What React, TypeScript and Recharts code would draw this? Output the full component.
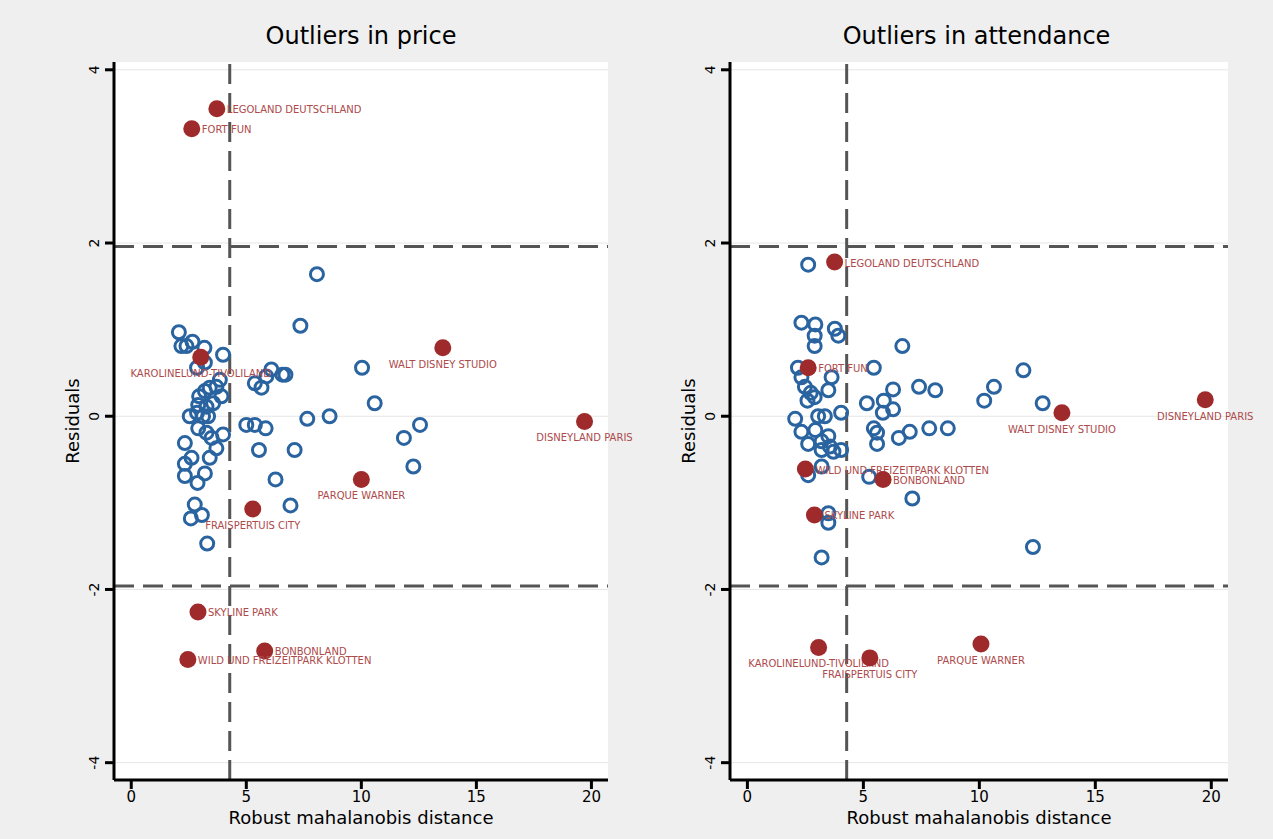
import { ScatterChart, Scatter, XAxis, YAxis, CartesianGrid, ReferenceLine } from 'recharts'

// price panel: regular parks (robust distance, residual)
const priceParks = [
  { d: 2.07, r: 0.97 }, { d: 2.18, r: 0.81 }, { d: 2.4, r: 0.81 }, { d: 2.66, r: 0.86 },
  { d: 3.18, r: 0.79 }, { d: 3.99, r: 0.71 }, { d: 2.86, r: 0.56 }, { d: 3.2, r: 0.62 },
  { d: 3.85, r: 0.42 }, { d: 2.95, r: 0.23 }, { d: 3.2, r: 0.29 }, { d: 3.41, r: 0.33 },
  { d: 3.7, r: 0.34 }, { d: 3.92, r: 0.23 }, { d: 3.56, r: 0.15 }, { d: 3.27, r: 0.11 },
  { d: 2.91, r: 0.13 }, { d: 2.54, r: 0.0 }, { d: 2.86, r: 0.04 }, { d: 3.12, r: 0.0 },
  { d: 3.34, r: 0.0 }, { d: 2.91, r: -0.14 }, { d: 3.27, r: -0.19 }, { d: 3.49, r: -0.25 },
  { d: 3.99, r: -0.21 }, { d: 2.33, r: -0.31 }, { d: 3.7, r: -0.37 }, { d: 2.62, r: -0.48 },
  { d: 2.33, r: -0.55 }, { d: 3.41, r: -0.48 }, { d: 2.33, r: -0.69 }, { d: 3.2, r: -0.66 },
  { d: 2.88, r: -0.77 }, { d: 2.76, r: -1.02 }, { d: 2.59, r: -1.18 }, { d: 3.07, r: -1.14 },
  { d: 3.3, r: -1.47 }, { d: 8.07, r: 1.64 }, { d: 7.35, r: 1.045 }, { d: 10.03, r: 0.56 },
  { d: 10.58, r: 0.15 }, { d: 7.65, r: -0.03 }, { d: 8.62, r: 0.0 }, { d: 12.55, r: -0.1 },
  { d: 11.85, r: -0.25 }, { d: 12.26, r: -0.58 }, { d: 5.55, r: -0.39 }, { d: 7.1, r: -0.39 },
  { d: 6.27, r: -0.73 }, { d: 6.92, r: -1.03 }, { d: 5.0, r: -0.1 }, { d: 5.37, r: -0.1 },
  { d: 5.84, r: -0.14 }, { d: 6.09, r: 0.54 }, { d: 6.57, r: 0.48 }, { d: 6.7, r: 0.48 },
  { d: 5.37, r: 0.38 }, { d: 5.66, r: 0.33 }, { d: 5.87, r: 0.46 },
]

const priceOutliers = [
  { name: 'LEGOLAND DEUTSCHLAND', d: 3.72, r: 3.55 },
  { name: 'FORT FUN', d: 2.63, r: 3.32 },
  { name: 'KAROLINELUND-TIVOLILAND', d: 3.02, r: 0.68 },
  { name: 'WALT DISNEY STUDIO', d: 13.54, r: 0.79 },
  { name: 'DISNEYLAND PARIS', d: 19.7, r: -0.06 },
  { name: 'PARQUE WARNER', d: 10.0, r: -0.73 },
  { name: 'FRAISPERTUIS CITY', d: 5.28, r: -1.07 },
  { name: 'SKYLINE PARK', d: 2.9, r: -2.26 },
  { name: 'BONBONLAND', d: 5.8, r: -2.71 },
  { name: 'WILD UND FREIZEITPARK KLOTTEN', d: 2.46, r: -2.81 },
]

// attendance panel
const attendanceParks = [
  { d: 2.62, r: 1.75 }, { d: 2.33, r: 1.08 }, { d: 2.93, r: 1.06 }, { d: 2.9, r: 0.93 },
  { d: 2.9, r: 0.81 }, { d: 3.77, r: 1.01 }, { d: 3.92, r: 0.93 }, { d: 6.68, r: 0.81 },
  { d: 2.18, r: 0.56 }, { d: 5.45, r: 0.56 }, { d: 2.33, r: 0.45 }, { d: 3.63, r: 0.45 },
  { d: 2.48, r: 0.34 }, { d: 3.49, r: 0.3 }, { d: 2.73, r: 0.27 }, { d: 2.9, r: 0.22 },
  { d: 2.59, r: 0.18 }, { d: 5.15, r: 0.15 }, { d: 5.88, r: 0.18 }, { d: 6.28, r: 0.31 },
  { d: 6.28, r: 0.08 }, { d: 5.84, r: 0.04 }, { d: 7.4, r: 0.34 }, { d: 8.1, r: 0.3 },
  { d: 2.06, r: -0.03 }, { d: 3.05, r: 0.0 }, { d: 3.34, r: 0.0 }, { d: 4.04, r: 0.04 },
  { d: 2.33, r: -0.18 }, { d: 2.93, r: -0.16 }, { d: 3.49, r: -0.23 }, { d: 2.62, r: -0.32 },
  { d: 3.2, r: -0.29 }, { d: 3.2, r: -0.39 }, { d: 3.56, r: -0.35 }, { d: 3.71, r: -0.41 },
  { d: 4.04, r: -0.39 }, { d: 5.45, r: -0.14 }, { d: 5.59, r: -0.19 }, { d: 5.59, r: -0.32 },
  { d: 6.53, r: -0.25 }, { d: 7.0, r: -0.18 }, { d: 7.84, r: -0.14 }, { d: 8.64, r: -0.14 },
  { d: 3.2, r: -0.58 }, { d: 2.62, r: -0.68 }, { d: 5.25, r: -0.7 }, { d: 7.11, r: -0.95 },
  { d: 3.49, r: -1.12 }, { d: 3.49, r: -1.23 }, { d: 3.2, r: -1.63 }, { d: 11.9, r: 0.53 },
  { d: 10.63, r: 0.34 }, { d: 10.21, r: 0.18 }, { d: 12.73, r: 0.15 }, { d: 12.31, r: -1.51 },
]

const attendanceOutliers = [
  { name: 'LEGOLAND DEUTSCHLAND', d: 3.76, r: 1.78 },
  { name: 'FORT FUN', d: 2.62, r: 0.56 },
  { name: 'DISNEYLAND PARIS', d: 19.74, r: 0.19 },
  { name: 'WALT DISNEY STUDIO', d: 13.56, r: 0.04 },
  { name: 'WILD UND FREIZEITPARK KLOTTEN', d: 2.5, r: -0.61 },
  { name: 'BONBONLAND', d: 5.85, r: -0.73 },
  { name: 'SKYLINE PARK', d: 2.89, r: -1.14 },
  { name: 'KAROLINELUND-TIVOLILAND', d: 3.07, r: -2.67 },
  { name: 'FRAISPERTUIS CITY', d: 5.28, r: -2.79 },
  { name: 'PARQUE WARNER', d: 10.07, r: -2.63 },
]

// labels drawn under the marker instead of to its right
const priceBelow = ['KAROLINELUND-TIVOLILAND', 'WALT DISNEY STUDIO', 'DISNEYLAND PARIS', 'PARQUE WARNER', 'FRAISPERTUIS CITY']
const attendanceBelow = ['DISNEYLAND PARIS', 'WALT DISNEY STUDIO', 'KAROLINELUND-TIVOLILAND', 'FRAISPERTUIS CITY', 'PARQUE WARNER']

const xTicks = [0, 5, 10, 15, 20]
const yTicks = [-4, -2, 0, 2, 4]
const critResidual = 1.96
const critDistance = 4.28

const FONT = 'DejaVu Sans, sans-serif'
const BLUE = '#2a64a0'
const RED = '#9e2a2b'

const hollow = (p: any) => (
  <circle cx={p.cx} cy={p.cy} r={6.5} fill="none" stroke={BLUE} strokeWidth={3} />
)

const labelled = (below: string[]) => (p: any) => {
  const name = p.payload.name
  const under = below.includes(name)
  return (
    <g>
      <circle cx={p.cx} cy={p.cy} r={8.5} fill={RED} />
      <text
        x={under ? p.cx : p.cx + 10}
        y={under ? p.cy + 20 : p.cy + 4.5}
        textAnchor={under ? 'middle' : 'start'}
        fontSize={10}
        fontFamily={FONT}
        fill="#ad4a4a"
      >
        {name}
      </text>
    </g>
  )
}

const yTick = (p: any) => (
  <text
    x={p.x}
    y={p.y}
    transform={`rotate(-90 ${p.x} ${p.y})`}
    textAnchor="middle"
    fontSize={14}
    fontFamily={FONT}
    fill="#000"
  >
    {p.payload.value}
  </text>
)

function Panel({ parks, outliers, below, marginLeft }: any) {
  return (
    <ScatterChart width={640} height={839} margin={{ top: 62, right: 32, bottom: 15, left: marginLeft }}>
      <CartesianGrid vertical={false} stroke="#e6e6e6" fill="#ffffff" horizontalValues={yTicks} />
      <XAxis
        type="number"
        dataKey="d"
        domain={[-0.75, 20.72]}
        ticks={xTicks}
        height={44}
        axisLine={{ stroke: '#000', strokeWidth: 3 }}
        tickLine={{ stroke: '#000', strokeWidth: 3 }}
        tickSize={9}
        tickMargin={2}
        tick={{ fontSize: 15, fill: '#000', fontFamily: FONT }}
        label={{
          value: 'Robust mahalanobis distance',
          position: 'insideBottom',
          offset: 0,
          style: { fontSize: 18, fill: '#000', fontFamily: FONT },
        }}
      />
      <YAxis
        type="number"
        dataKey="r"
        domain={[-4.2, 4.09]}
        ticks={yTicks}
        width={50}
        axisLine={{ stroke: '#000', strokeWidth: 3 }}
        tickLine={{ stroke: '#000', strokeWidth: 3 }}
        tickSize={9}
        tickMargin={6}
        tick={yTick}
        label={{
          value: 'Residuals',
          angle: -90,
          position: 'insideLeft',
          offset: 9,
          style: { fontSize: 18, fill: '#000', fontFamily: FONT, textAnchor: 'middle' },
        }}
      />
      <ReferenceLine y={critResidual} stroke="#555" strokeWidth={3} strokeDasharray="20 9" />
      <ReferenceLine y={-critResidual} stroke="#555" strokeWidth={3} strokeDasharray="20 9" />
      <ReferenceLine x={critDistance} stroke="#555" strokeWidth={3} strokeDasharray="20 9" />
      <Scatter data={parks} shape={hollow} isAnimationActive={false} />
      <Scatter data={outliers} shape={labelled(below)} isAnimationActive={false} />
    </ScatterChart>
  )
}

export default function App() {
  const title = { position: 'absolute' as const, top: 22, fontSize: 24, lineHeight: '28px', textAlign: 'center' as const, color: '#000' }
  return (
    <div style={{ position: 'relative', width: 1273, height: 839, background: '#efefef', fontFamily: FONT, overflow: 'hidden' }}>
      <style>{'body{margin:0}'}</style>
      <div style={{ ...title, left: 114, width: 494 }}>Outliers in price</div>
      <div style={{ ...title, left: 730, width: 493 }}>Outliers in attendance</div>
      <div style={{ position: 'absolute', left: 0, top: 0 }}>
        <Panel parks={priceParks} outliers={priceOutliers} below={priceBelow} marginLeft={64} />
      </div>
      <div style={{ position: 'absolute', left: 620, top: 0 }}>
        <Panel parks={attendanceParks} outliers={attendanceOutliers} below={attendanceBelow} marginLeft={60} />
      </div>
    </div>
  )
}
